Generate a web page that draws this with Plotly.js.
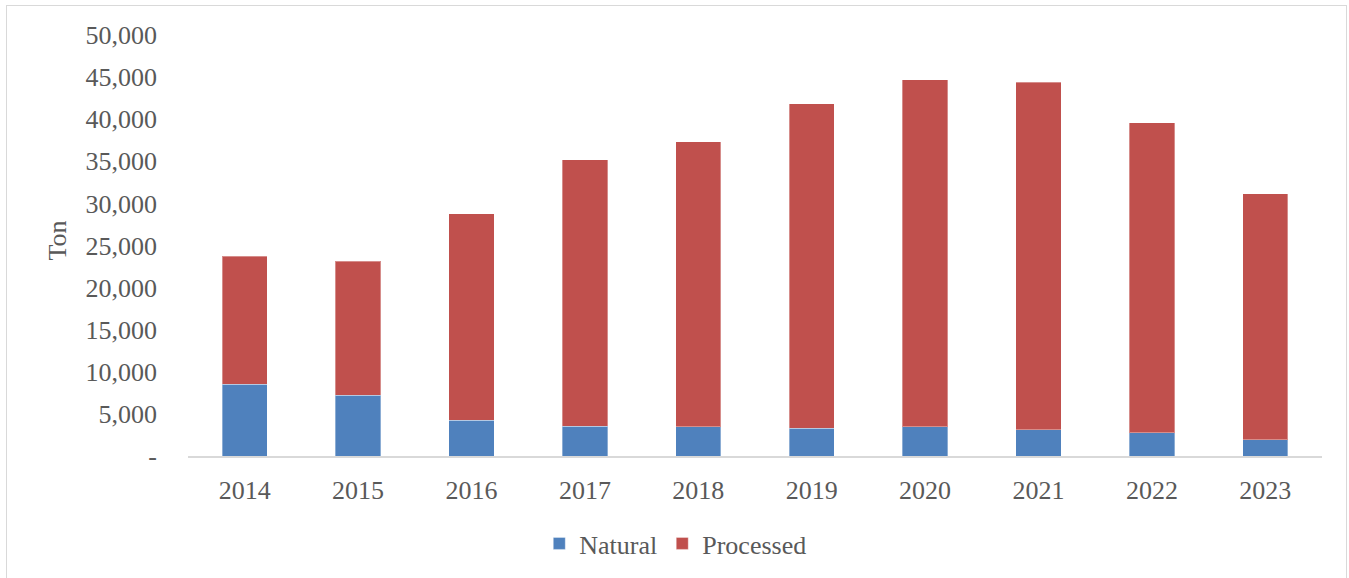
<!DOCTYPE html>
<html>
<head>
<meta charset="utf-8">
<script src="https://cdn.plot.ly/plotly-3.0.1.min.js"></script>
<style>
  html, body { margin: 0; padding: 0; background: #ffffff; overflow: hidden; }
  #frame { position: absolute; left: 6px; top: 5px; width: 1341px; height: 620px; border: 1.5px solid #d9d9d9; box-sizing: border-box; pointer-events: none; z-index: 5; }
  #chart { position: absolute; left: 0; top: 0; width: 1349px; height: 578px; }
</style>
</head>
<body>
<div id="chart"></div>
<div id="frame"></div>
<script>
const years = ["2014", "2015", "2016", "2017", "2018", "2019", "2020", "2021", "2022", "2023"];
const naturalTon = [8500, 7200, 4220, 3560, 3450, 3280, 3480, 3090, 2740, 1950];
const processedTon = [15250, 15930, 24580, 31630, 33870, 38540, 41180, 41300, 36830, 29190];
const yTickVals = [0, 5000, 10000, 15000, 20000, 25000, 30000, 35000, 40000, 45000, 50000];
const yTickText = ["-", "5,000", "10,000", "15,000", "20,000", "25,000", "30,000", "35,000", "40,000", "45,000", "50,000"];
const seriesNames = ["Natural", "Processed"];

const font = "Liberation Serif, Times New Roman, serif";
const grey = "#595959";

const traces = [
  {
    type: "bar", name: seriesNames[0], x: years, y: naturalTon,
    marker: { color: "#4F81BD", line: { color: "rgba(255,255,255,0.35)", width: 1 } },
    hoverinfo: "x+y+name"
  },
  {
    type: "bar", name: seriesNames[1], x: years, y: processedTon,
    marker: { color: "#C0504D", line: { color: "rgba(255,255,255,0.35)", width: 1 } },
    hoverinfo: "x+y+name"
  }
];

const layout = {
  width: 1349, height: 578,
  margin: { l: 188, r: 27, t: 35, b: 120.5, pad: 0 },
  paper_bgcolor: "rgba(0,0,0,0)",
  plot_bgcolor: "rgba(0,0,0,0)",
  barmode: "stack",
  bargap: 0.6,
  font: { family: font, size: 26, color: grey },
  showlegend: true,
  legend: {
    orientation: "h", x: 0.4297, xanchor: "center", y: -0.205, yanchor: "middle",
    font: { family: font, size: 26, color: grey },
    traceorder: "normal", itemwidth: 30
  },
  xaxis: {
    type: "category",
    showgrid: false, zeroline: false,
    showline: true, linecolor: "#d9d9d9", linewidth: 1.5,
    ticks: "", ticklabelstandoff: 10,
    tickfont: { family: font, size: 26, color: grey }
  },
  yaxis: {
    range: [0, 50000],
    tickvals: yTickVals, ticktext: yTickText,
    showgrid: false, zeroline: false, showline: false,
    ticks: "", ticklabelstandoff: 30,
    tickfont: { family: font, size: 26, color: grey }
  },
  annotations: [
    {
      text: "Ton", xref: "paper", yref: "paper",
      x: -0.1155, y: 0.512, xanchor: "center", yanchor: "middle",
      textangle: -90, showarrow: false,
      font: { family: font, size: 26, color: grey }
    }
  ]
};

Plotly.newPlot("chart", traces, layout, { displayModeBar: false, staticPlot: true });
</script>
</body>
</html>
